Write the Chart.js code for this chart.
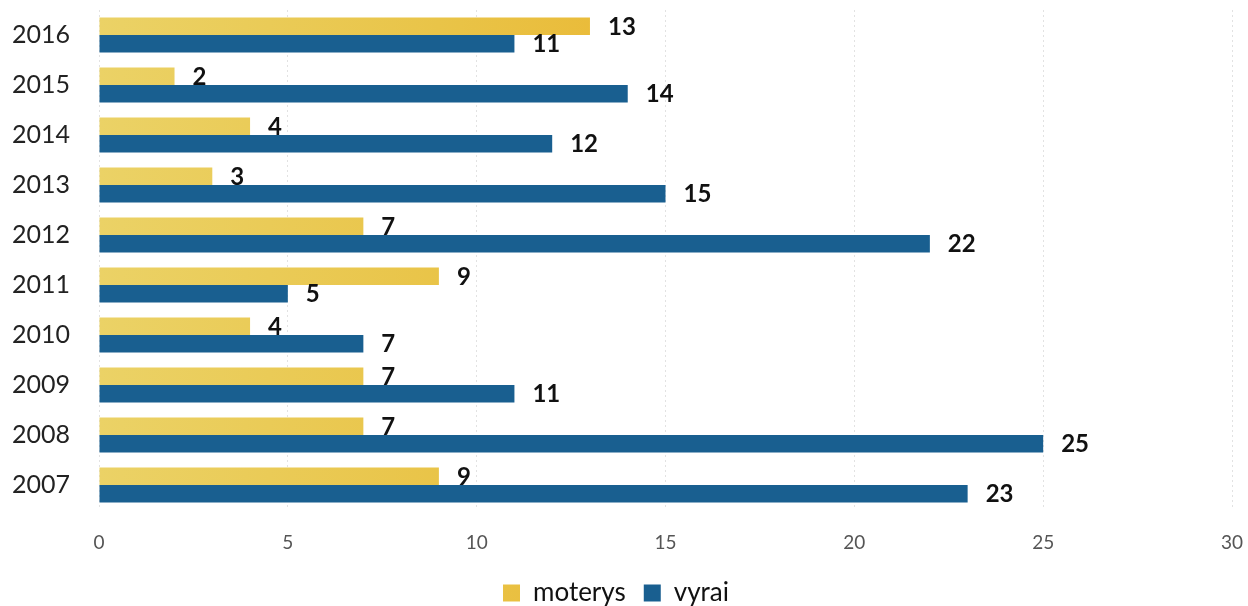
<!DOCTYPE html>
<html>
<head>
<meta charset="utf-8">
<script src="https://cdn.jsdelivr.net/npm/chart.js@4.4.1/dist/chart.umd.min.js"></script>
<style>
    html, body { margin: 0; padding: 0; background: #fff; }
    #wrap { width: 1248px; height: 606px; position: relative; }
</style>
</head>
<body>
<div id="wrap"><canvas id="chart-bars"></canvas></div>
<script>
    const years = ['2016', '2015', '2014', '2013', '2012', '2011', '2010', '2009', '2008', '2007'];
    const moterys = [13, 2, 4, 3, 7, 9, 4, 7, 7, 9];
    const vyrai = [11, 14, 12, 15, 22, 5, 7, 11, 25, 23];
    const xTicks = [0, 5, 10, 15, 20, 25, 30];

    const fontName = 'Lato, "Open Sans", sans-serif';

    function yellowFill(context) {
        const chart = context.chart;
        const area = chart.chartArea;
        if (!area) return '#e8c443';
        const g = chart.ctx.createLinearGradient(area.left, 0, area.left + (area.right - area.left) * 0.5, 0);
        g.addColorStop(0, '#ebd266');
        g.addColorStop(0.6, '#e9c448');
        g.addColorStop(1, '#eab834');
        return g;
    }

    // draws value next to each bar end
    const valueLabels = {
        id: 'valueLabels',
        afterDatasetsDraw(chart) {
            const ctx = chart.ctx;
            ctx.save();
            ctx.font = 'bold 24px ' + fontName;
            ctx.fillStyle = '#111';
            ctx.textAlign = 'left';
            ctx.textBaseline = 'middle';
            chart.data.datasets.forEach(function (ds, i) {
                const meta = chart.getDatasetMeta(i);
                meta.data.forEach(function (bar, j) {
                    ctx.fillText(ds.data[j], bar.x + 18, bar.y + 1);
                });
            });
            ctx.restore();
        }
    };

    new Chart(document.getElementById('chart-bars').getContext('2d'), {
        type: 'bar',
        data: {
            labels: years,
            datasets: [
                {
                    label: 'moterys',
                    data: moterys,
                    backgroundColor: yellowFill,
                    categoryPercentage: 0.7,
                    barPercentage: 1.0
                },
                {
                    label: 'vyrai',
                    data: vyrai,
                    backgroundColor: '#195f90',
                    categoryPercentage: 0.7,
                    barPercentage: 1.0
                }
            ]
        },
        options: {
            indexAxis: 'y',
            responsive: true,
            maintainAspectRatio: false,
            animation: false,
            layout: { padding: { left: 0, right: 16, top: 10, bottom: -10 } },
            scales: {
                x: {
                    min: 0,
                    max: 30,
                    afterBuildTicks(scale) {
                        scale.ticks = xTicks.map(v => ({ value: v }));
                    },
                    afterFit(scale) {
                        scale.height = 52;
                        scale.paddingLeft = 0;
                        scale.paddingRight = 0;
                    },
                    border: { display: false, dash: [2, 3] },
                    grid: {
                        color: '#e2e2e2',
                        drawTicks: false,
                        lineWidth: 1
                    },
                    ticks: {
                        padding: 21,
                        color: '#555',
                        font: { family: fontName, size: 19 }
                    }
                },
                y: {
                    afterFit(scale) {
                        scale.width = 99;
                        scale.paddingTop = 0;
                        scale.paddingBottom = 0;
                    },
                    border: { display: false },
                    grid: { display: false },
                    ticks: {
                        padding: 21,
                        color: '#222',
                        font: { family: fontName, size: 25 }
                    }
                }
            },
            plugins: {
                legend: {
                    position: 'bottom',
                    labels: {
                        boxWidth: 17,
                        boxHeight: 17,
                        padding: 18,
                        color: '#111',
                        font: { family: fontName, size: 26 }
                    }
                },
                tooltip: { enabled: false }
            }
        },
        plugins: [valueLabels]
    });
</script>
</body>
</html>
